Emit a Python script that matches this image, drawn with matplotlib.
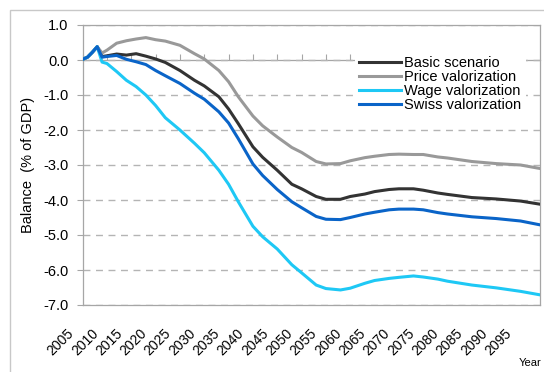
import matplotlib
matplotlib.use('Agg')
import matplotlib.pyplot as plt
import matplotlib.transforms as mtransforms
from matplotlib.patches import Rectangle

plt.rcParams['font.family'] = ['Liberation Sans', 'DejaVu Sans']

years = [2005, 2006, 2007, 2008, 2009, 2010, 2012, 2014, 2016, 2018, 2020, 2022, 2025,
         2028, 2030, 2033, 2035, 2037, 2040, 2042, 2045, 2048, 2050, 2053, 2055, 2058,
         2060, 2063, 2065, 2068, 2070, 2073, 2075, 2078, 2080, 2085, 2090, 2095, 2099]

basic = [0.02, 0.08, 0.22, 0.38, 0.10, 0.12, 0.17, 0.14, 0.18, 0.11, 0.03, -0.07, -0.30,
         -0.58, -0.74, -1.05, -1.40, -1.82, -2.48, -2.78, -3.15, -3.55, -3.68, -3.90, -3.98, -3.98,
         -3.90, -3.83, -3.76, -3.70, -3.68, -3.68, -3.72, -3.80, -3.84, -3.93, -3.97, -4.03, -4.12]

price = [0.02, 0.08, 0.22, 0.38, 0.20, 0.28, 0.48, 0.55, 0.60, 0.64, 0.58, 0.54, 0.42,
         0.18, 0.03, -0.30, -0.62, -1.05, -1.60, -1.88, -2.20, -2.50, -2.64, -2.90, -2.97, -2.96,
         -2.88, -2.79, -2.75, -2.70, -2.69, -2.70, -2.70, -2.77, -2.80, -2.90, -2.96, -3.00, -3.10]

wage = [0.02, 0.08, 0.22, 0.38, -0.06, -0.10, -0.33, -0.58, -0.76, -1.00, -1.30, -1.65, -2.00,
        -2.38, -2.65, -3.15, -3.55, -4.05, -4.75, -5.05, -5.40, -5.85, -6.08, -6.43, -6.53, -6.57,
        -6.52, -6.38, -6.30, -6.24, -6.21, -6.17, -6.20, -6.26, -6.32, -6.43, -6.51, -6.61, -6.71]

swiss = [0.02, 0.08, 0.22, 0.38, 0.08, 0.10, 0.13, 0.02, -0.05, -0.13, -0.30, -0.45, -0.67,
         -0.95, -1.12, -1.48, -1.80, -2.25, -2.97, -3.30, -3.70, -4.05, -4.22, -4.47, -4.55, -4.56,
         -4.50, -4.40, -4.35, -4.28, -4.26, -4.26, -4.28, -4.36, -4.40, -4.48, -4.53, -4.60, -4.71]

series = [('Basic scenario', basic, '#333333'),
          ('Price valorization', price, '#999999'),
          ('Wage valorization', wage, '#1EC8F5'),
          ('Swiss valorization', swiss, '#0A64C8')]

xticks = list(range(2005, 2100, 5))
yticks = [1.0, 0.0, -1.0, -2.0, -3.0, -4.0, -5.0, -6.0, -7.0]

fig = plt.figure(figsize=(5.44, 3.72), dpi=100)
ax = fig.add_axes([82.6 / 544, 1 - 305 / 372, 457.4 / 544, 280 / 372])

for name, vals, col in series:
    ax.plot(years, vals, color=col, lw=2.2, label=name, zorder=3)

ax.set_xlim(2005, 2099)
ax.set_ylim(-7, 1)
ax.set_yticks(yticks)
ax.set_yticklabels(['%.1f' % v for v in yticks], fontsize=10.5)
ax.grid(axis='y', color='#B4B4B4', linewidth=1.0, linestyle=(0, (5, 4)))
ax.set_axisbelow(True)

for s in ax.spines.values():
    s.set_color('#A6A6A6')
    s.set_linewidth(0.9)
ax.tick_params(axis='y', length=4, color='#A6A6A6', pad=6)

# category labels sit at the bottom, the tick marks on the zero line
ax.set_xticks(xticks)
ax.set_xticklabels([str(y) for y in xticks], fontsize=10, rotation=45,
                   ha='right', va='center', rotation_mode='anchor')
ax.tick_params(axis='x', length=0, pad=19)
shift = mtransforms.ScaledTranslation(-11 / 100, 0, fig.dpi_scale_trans)
for lab in ax.get_xticklabels():
    lab.set_transform(lab.get_transform() + shift)

sec = ax.secondary_xaxis(7 / 8)
sec.set_xticks(xticks)
sec.tick_params(axis='x', direction='out', length=4, color='#A6A6A6',
                labeltop=False, labelbottom=False)
for s in sec.spines.values():
    s.set_color('#A6A6A6')
    s.set_linewidth(0.9)

ax.set_ylabel('Balance  (% of GDP)', fontsize=10.5)
ax.yaxis.set_label_coords(-0.105, 0.5)

leg = ax.legend(loc='upper left', bbox_to_anchor=(0.595, 0.905), fontsize=10.5,
                frameon=True, framealpha=1, edgecolor='none', facecolor='white',
                handlelength=2.9, handletextpad=0.2, labelspacing=0.0,
                borderpad=0.3, borderaxespad=0)
leg.get_frame().set_linewidth(0)
leg.set_zorder(5)

fig.text(519 / 544, 1 - 363 / 372, 'Year', fontsize=8, va='center')
fig.patches.append(Rectangle((10 / 544, -0.1), 1.2, 1 - 10 / 372 + 0.1,
                             transform=fig.transFigure, fill=False,
                             edgecolor='#C8C8C8', lw=1))

fig.savefig('out.png', dpi=100)
